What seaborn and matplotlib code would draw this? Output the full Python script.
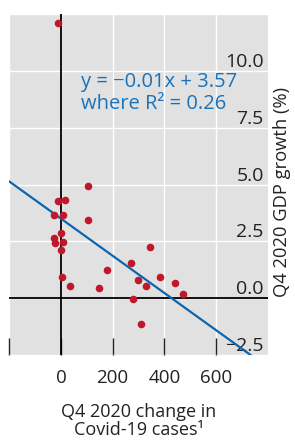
import matplotlib
matplotlib.use('Agg')
import matplotlib.pyplot as plt
import pandas as pd
import seaborn as sns

# Q4 2020 change in Covid-19 cases vs Q4 2020 GDP growth (%)
case_change = [106, -10, 14, -28, 9, 106, 1, -25, -24, 9, 1, 343, 270, 178, 6,
               383, 298, 442, 34, 148, 329, 473, 278, 308, -13]
gdp_growth = [4.93, 4.29, 4.31, 3.65, 3.65, 3.44, 2.87, 2.66, 2.43, 2.46, 2.13,
              2.25, 1.53, 1.24, 0.94, 0.93, 0.79, 0.65, 0.53, 0.44, 0.53, 0.19,
              -0.03, -1.13, 12.09]

x_ticks = [-200, 0, 200, 400, 600]
x_tick_labels = ['', '0', '200', '400', '600']
y_ticks = [-2.5, 0, 2.5, 5, 7.5, 10, 12.5]
y_tick_labels = ['\u22122.5', '0.0', '2.5', '5.0', '7.5', '10.0', '']

df = pd.DataFrame({'cases': case_change, 'gdp': gdp_growth})

sns.set_style('darkgrid', {'axes.facecolor': '#e1e1e1', 'grid.color': 'white'})
plt.rcParams['font.family'] = ['Open Sans', 'DejaVu Sans']

fig = plt.figure(figsize=(2.95, 4.42), dpi=100)
ax = fig.add_axes([0.031, 0.197, 0.877, 0.771])
ax.set_xlim(-200, 800)
ax.set_ylim(-2.5, 12.5)

ax.axhline(0, color='black', lw=1.3, zorder=1)
ax.axvline(0, color='black', lw=1.3, zorder=1)

sns.regplot(data=df, x='cases', y='gdp', ci=None, truncate=False, ax=ax,
            scatter_kws=dict(color='#c0172b', s=30, linewidths=0, alpha=1, zorder=3),
            line_kws=dict(color='#0b66b1', lw=1.6, zorder=2))
ax.set_xlim(-200, 800)
ax.set_ylim(-2.5, 12.5)

for s in ax.spines.values():
    s.set_visible(False)
ax.grid(True, color='white', lw=1)

ax.set_xticks(x_ticks, x_tick_labels)
ax.tick_params(axis='x', bottom=True, direction='in', length=12, width=1,
               color='#222222', pad=10, labelsize=13.5, labelcolor='#222222')

ax.yaxis.tick_right()
ax.set_yticks(y_ticks, y_tick_labels)
ax.tick_params(axis='y', right=False, left=False, length=0, pad=-3, labelsize=14,
               labelcolor='#222222')
for lbl in ax.get_yticklabels():
    lbl.set_ha('right')
    lbl.set_va('bottom')

ax.yaxis.set_label_position('right')
ax.set_ylabel('Q4 2020 GDP growth (%)', fontsize=13.2, color='#222222', labelpad=4)
ax.yaxis.label.set_y(0.477)
ax.set_xlabel('Q4 2020 change in\nCovid-19 cases\u00b9', fontsize=13, color='#222222',
              labelpad=12, linespacing=0.95)

ax.text(78, 9.95, 'y = \u22120.01x + 3.57\nwhere R\u00b2 = 0.26', color='#1a72bb',
        fontsize=14.5, va='top', ha='left', linespacing=1.1)

fig.savefig('out.png', dpi=100)
